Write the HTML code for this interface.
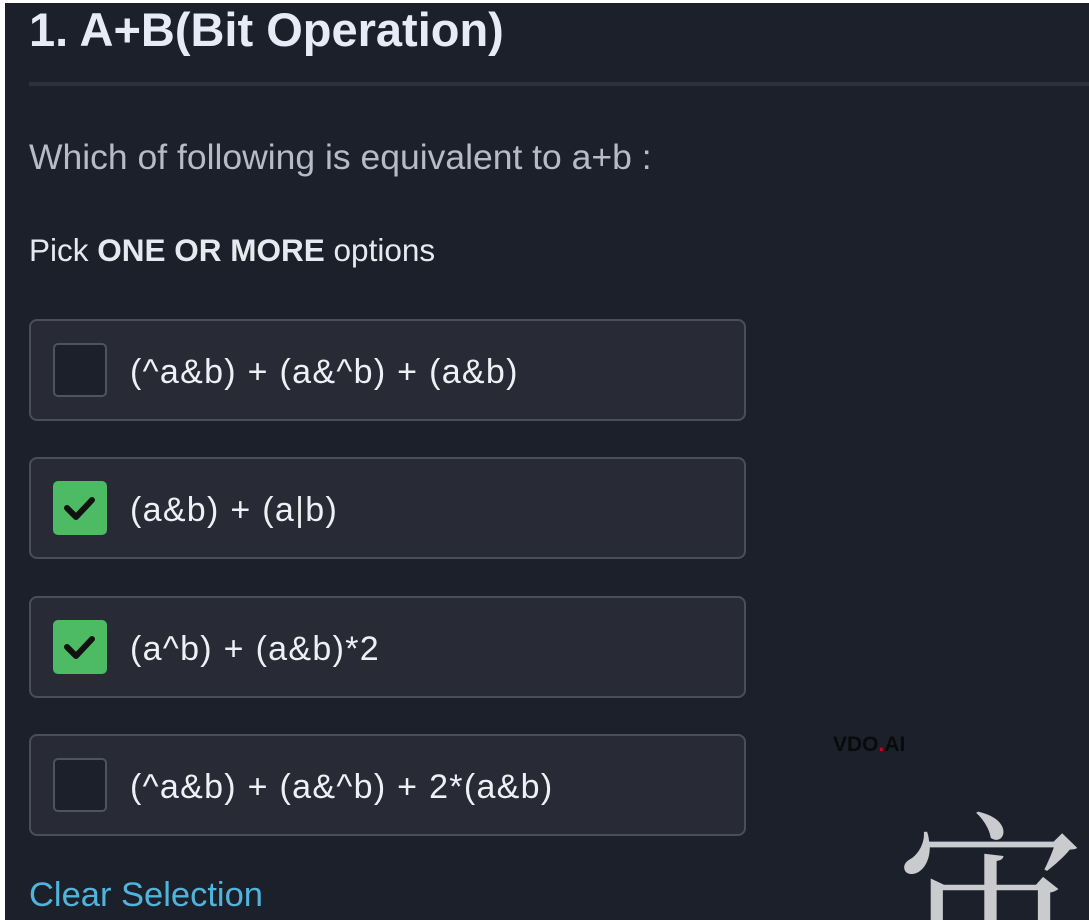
<!DOCTYPE html>
<html style="width:1089px;height:920px;overflow:hidden"><head><meta charset="utf-8"><style>
*{margin:0;padding:0;box-sizing:border-box}
body{width:1089px;height:920px;overflow:hidden;background:#1c202a;position:relative;font-family:"Liberation Sans",sans-serif}
.wt{position:absolute;background:#fff}
.t{position:absolute;white-space:nowrap;line-height:1.15}
.box{position:absolute;left:29px;width:717px;height:102px;background:#282b36;border:2px solid #4a4e5a;border-radius:8px}
.cb{position:absolute;left:22px;top:22px;width:54px;height:54px;border:2px solid #4f5360;border-radius:5px;background:#1c202a}
.cb.on{background:#4cbb63;border-color:#4cbb63}
.lab{position:absolute;left:99px;top:32px;font-size:34px;line-height:1.15;letter-spacing:1.3px;color:#eef0f6;white-space:nowrap}
</style></head><body>
<div class="wt" style="left:0;top:0;width:1089px;height:3px"></div>
<div class="wt" style="left:0;top:0;width:5px;height:920px"></div>
<div class="t" style="left:29px;top:3px;font-size:47px;font-weight:bold;color:#e6ebf7">1. A+B(Bit Operation)</div>
<div style="position:absolute;left:29px;top:82px;width:1060px;height:4px;background:#2d313c"></div>
<div class="t" style="left:29px;top:137px;font-size:35.5px;color:#b6bbc7">Which of following is equivalent to a+b :</div>
<div class="t" style="left:29px;top:232px;font-size:31.5px;color:#e6e9f0">Pick <b>ONE OR MORE</b> options</div>

<div class="box" style="top:319px"><div class="cb"></div><div class="lab">(^a&amp;b) + (a&amp;^b) + (a&amp;b)</div></div>
<div class="box" style="top:457px"><div class="cb on"><svg width="50" height="50" viewBox="0 0 50 50" style="position:absolute;left:0;top:0"><path d="M12 25 L21 34 L37 17" fill="none" stroke="#111" stroke-width="6" stroke-linecap="round" stroke-linejoin="round"/></svg></div><div class="lab">(a&amp;b) + (a|b)</div></div>
<div class="box" style="top:596px"><div class="cb on"><svg width="50" height="50" viewBox="0 0 50 50" style="position:absolute;left:0;top:0"><path d="M12 25 L21 34 L37 17" fill="none" stroke="#111" stroke-width="6" stroke-linecap="round" stroke-linejoin="round"/></svg></div><div class="lab">(a^b) + (a&amp;b)*2</div></div>
<div class="box" style="top:734px"><div class="cb"></div><div class="lab">(^a&amp;b) + (a&amp;^b) + 2*(a&amp;b)</div></div>

<div class="t" style="left:833px;top:733px;font-size:21px;font-weight:bold;color:#0a0a0a">VDO<span style="color:#d0021b">.</span>AI</div>
<div style="position:absolute;left:880px;top:790px;width:209px;height:130px;overflow:hidden"><div style="position:absolute;left:15px;top:5px;font-size:190px;line-height:1;height:125px;overflow:hidden;color:#c9cbce;font-family:'Noto Serif CJK SC',serif">宙</div></div>
<div class="t" style="left:29px;top:878px;font-size:34.5px;line-height:1;color:#4fb5dc">Clear Selection</div>
</body></html>
